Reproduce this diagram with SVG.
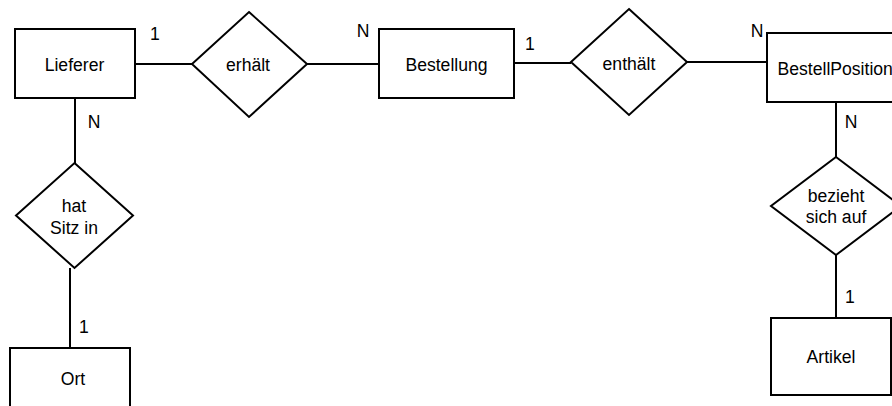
<svg xmlns="http://www.w3.org/2000/svg" width="892" height="406" viewBox="0 0 892 406">
<style>
.s{fill:#fff;stroke:#000;stroke-width:2}
.c{stroke:#000;stroke-width:2;fill:none}
text{font-family:"Liberation Sans",Arial,sans-serif;font-size:17.6px;fill:#000}
.m{text-anchor:middle}
</style>
<rect width="892" height="406" fill="#fff"/>
<g id="connectors">
<line class="c" x1="135" y1="64" x2="192" y2="64"/>
<line class="c" x1="307" y1="64" x2="379" y2="64"/>
<line class="c" x1="514" y1="63" x2="571" y2="63"/>
<line class="c" x1="687" y1="62" x2="767" y2="62"/>
<line class="c" x1="75" y1="98" x2="75" y2="163"/>
<line class="c" x1="70" y1="268" x2="70" y2="348"/>
<line class="c" x1="836" y1="102" x2="836" y2="157"/>
<line class="c" x1="836" y1="255" x2="836" y2="318"/>
<text x="155" y="40" class="m">1</text>
<text x="363" y="37" class="m">N</text>
<text x="530" y="50" class="m">1</text>
<text x="757" y="37" class="m">N</text>
<text x="94" y="128" class="m">N</text>
<text x="84" y="333" class="m">1</text>
<text x="851" y="128" class="m">N</text>
<text x="850" y="303" class="m">1</text>
</g>
<g id="lieferer">
<rect class="s" x="15" y="29" width="120" height="69"/>
<text x="74.5" y="71" class="m">Lieferer</text>
</g>
<g id="erhaelt">
<polygon class="s" points="249,12 307,64 249,117 192,64"/>
<text x="248" y="71" class="m">erhält</text>
</g>
<g id="bestellung">
<rect class="s" x="379" y="29" width="135" height="69"/>
<text x="446.5" y="71" class="m">Bestellung</text>
</g>
<g id="enthaelt">
<polygon class="s" points="629,9 687,62 629,115 571,62"/>
<text x="629" y="70" class="m">enthält</text>
</g>
<g id="bestellposition">
<rect class="s" x="767" y="33" width="132" height="69"/>
<text x="777.5" y="75">BestellPosition</text>
</g>
<g id="hat-sitz-in">
<polygon class="s" points="74.5,163 133,215.5 74.5,268 16,215.5"/>
<text x="74" y="212" class="m">hat</text>
<text x="74" y="234" class="m">Sitz in</text>
</g>
<g id="ort">
<rect class="s" x="10" y="348" width="120" height="69"/>
<text x="73" y="385" class="m">Ort</text>
</g>
<g id="bezieht-sich-auf">
<polygon class="s" points="836,157 901,206 836,255 771,206"/>
<text x="836" y="202" class="m">bezieht</text>
<text x="836" y="223" class="m">sich auf</text>
</g>
<g id="artikel">
<rect class="s" x="771" y="318" width="120" height="77"/>
<text x="831" y="363" class="m">Artikel</text>
</g>
</svg>
